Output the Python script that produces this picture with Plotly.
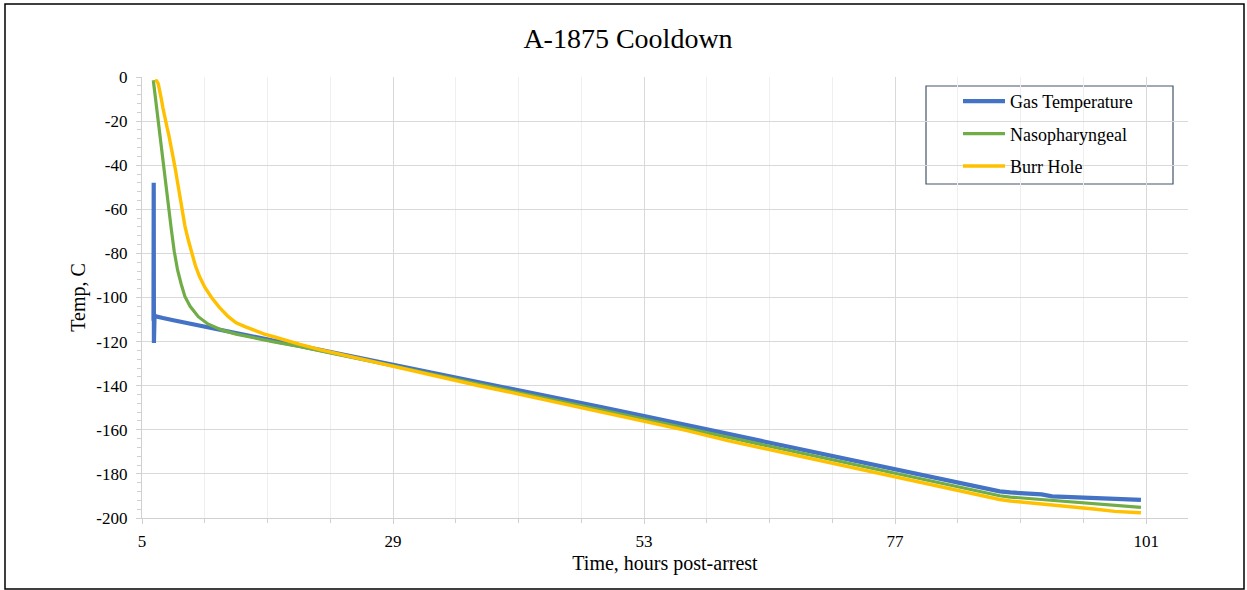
import plotly.graph_objects as go

# ---- data ----
gas_t = [6.10, 6.12, 6.14, 6.17, 6.20, 6.30, 6.50, 7, 8, 9, 10, 11, 12, 13, 14, 15, 16, 17, 18,
         20, 22, 25, 29, 33, 37, 41, 45, 49, 53, 57, 61, 65, 69, 73, 77, 81, 84, 86, 87, 88,
         89, 90, 91, 92, 94, 96, 98, 100, 100.5]
gas_T = [-110.5, -48.0, -120.6, -101.5, -108.0, -108.5, -108.8, -109.3, -110.3, -111.3, -112.3,
         -113.3, -114.3, -115.3, -116.3, -117.3, -118.2, -119.1, -120.0, -121.8, -123.7, -126.6,
         -130.4, -134.3, -138.2, -142.0, -145.9, -149.8, -153.8, -157.8, -161.9, -166.0, -170.0,
         -174.0, -178.0, -182.1, -185.2, -187.1, -187.9, -188.4, -188.7, -189.0, -189.3, -190.2,
         -190.6, -190.9, -191.2, -191.5, -191.8]

naso_t = [6.08, 6.40, 6.80, 7.20, 7.50, 7.80, 8.08, 8.40, 8.75, 9.10, 9.60, 10.38, 11.3, 12.6,
          14.0, 15.8, 17.5, 20, 22, 25, 29, 33, 37, 41, 45, 49, 53, 57, 61, 65, 69, 73, 77,
          81, 84, 86, 87, 88, 90, 92, 94, 96, 98, 100, 100.5]
naso_T = [-1.5, -14.5, -31.0, -47.5, -59.0, -69.0, -79.0, -87.5, -94.0, -99.5, -104.0, -108.7,
          -112.0, -114.7, -116.6, -118.5, -120.0, -122.2, -124.1, -127.0, -131.0, -135.1,
          -139.2, -143.1, -147.1, -151.1, -155.2, -159.3, -163.6, -167.7, -171.8, -175.9,
          -179.9, -184.0, -187.1, -189.0, -189.9, -190.5, -191.3, -192.1, -192.9, -193.7,
          -194.4, -195.0, -195.2]

burr_t = [6.24, 6.40, 6.55, 6.70, 6.85, 7.00, 7.20, 7.30, 7.40, 7.55, 7.80, 8.00, 8.20, 8.50,
          8.78, 9.10, 9.40, 9.74, 10.1, 10.5, 11.0, 11.65, 12.4, 13.25, 14.0, 14.84, 15.8,
          16.7, 17.6, 18.8, 20.1, 22, 25, 29, 33, 37, 41, 45, 49, 53, 57, 61, 65, 69, 73,
          77, 81, 84, 86, 87, 88, 90, 92, 94, 96, 98, 100, 100.5]
burr_T = [-1.5, -1.8, -3.0, -6.0, -10.0, -14.0, -19.5, -22.5, -23.0, -26.0, -31.5, -37.0, -42.2,
          -51.0, -60.0, -67.5, -73.5, -80.0, -85.5, -90.5, -95.3, -100.0, -104.5, -108.7,
          -111.5, -113.2, -115.0, -116.6, -117.8, -119.6, -121.3, -123.6, -126.9, -131.2,
          -135.4, -139.8, -143.8, -147.9, -152.0, -156.1, -160.3, -164.9, -169.0, -173.1,
          -177.2, -181.2, -185.4, -188.6, -190.6, -191.6, -192.3, -193.3, -194.2, -195.0,
          -195.9, -197.0, -197.5, -197.6]

x_tickvals = [5, 29, 53, 77, 101]
x_ticktext = ["5", "29", "53", "77", "101"]
y_tickvals = [0, -20, -40, -60, -80, -100, -120, -140, -160, -180, -200]
y_ticktext = ["0", "-20", "-40", "-60", "-80", "-100", "-120", "-140", "-160", "-180", "-200"]

series = [
    ("Gas Temperature", gas_t, gas_T, "#4472C4", 4.2),
    ("Nasopharyngeal", naso_t, naso_T, "#70AD47", 3.2),
    ("Burr Hole", burr_t, burr_T, "#FFC000", 3.4),
]

FONT = "Liberation Serif, Times New Roman, serif"

fig = go.Figure()
for i, (name, t, T, col, w) in enumerate(series):
    fig.add_trace(go.Scatter(x=t, y=T, mode="lines", name=name, legendgroup=f"g{i}",
                             line=dict(color=col, width=w)))

# plot area: x 142..1188, y 77..518 px
L, R, TOP, BOT = 142, 1188, 77, 518
W, H = 1247, 590
pw, ph = R - L, BOT - TOP


def px_x(p):
    return (p - L) / pw


def px_y(p):
    return (BOT - p) / ph


fig.update_layout(
    width=W, height=H,
    margin=dict(l=L, r=W - R, t=TOP, b=H - BOT, autoexpand=False),
    paper_bgcolor="white", plot_bgcolor="white",
    font=dict(family=FONT, color="#000000", size=17),
    title=dict(text="A-1875 Cooldown", x=628 / W, xref="container", xanchor="center",
               y=1 - 38 / H, yanchor="middle", yref="container",
               font=dict(family=FONT, size=28, color="#000000")),
    showlegend=True,
    legend=dict(x=px_x(958), y=px_y(83), xanchor="left", yanchor="top",
                bgcolor="rgba(0,0,0,0)", borderwidth=0, tracegroupgap=6,
                itemwidth=42, font=dict(family=FONT, size=18, color="#000000")),
    xaxis=dict(range=[5, 105], tickvals=x_tickvals, ticktext=x_ticktext,
               showgrid=True, gridcolor="#D9D9D9", gridwidth=1,
               showline=True, linecolor="#D0D0D0", linewidth=1.3,
               ticks="outside", ticklen=5, tickcolor="#D0D0D0",
               zeroline=False, ticklabelstandoff=2,
               tickfont=dict(family=FONT, size=17, color="#000000"),
               minor=dict(dtick=6, tick0=5, showgrid=True, gridcolor="#EFEFEF", gridwidth=1,
                          ticks="outside", ticklen=4, tickcolor="#D0D0D0"),
               title=dict(text="Time, hours post-arrest", standoff=6,
                          font=dict(family=FONT, size=20, color="#000000"))),
    yaxis=dict(range=[-200, 0], tickvals=y_tickvals, ticktext=y_ticktext,
               showgrid=True, gridcolor="#D9D9D9", gridwidth=1,
               showline=True, linecolor="#D0D0D0", linewidth=1.3,
               ticks="outside", ticklen=5, tickcolor="#D0D0D0",
               zeroline=False, ticklabelstandoff=5,
               tickfont=dict(family=FONT, size=17, color="#000000"),
               minor=dict(dtick=4, tick0=0, showgrid=False,
                          ticks="outside", ticklen=4, tickcolor="#D0D0D0"),
               title=dict(text="Temp, C", standoff=5,
                          font=dict(family=FONT, size=20, color="#000000"))),
    shapes=[
        # legend box
        dict(type="rect", xref="paper", yref="paper",
             x0=px_x(926), x1=px_x(1173), y0=px_y(184), y1=px_y(86),
             line=dict(color="#44546A", width=1.2), fillcolor="rgba(255,255,255,1)",
             layer="below"),
        # outer chart frame
        dict(type="rect", xref="paper", yref="paper",
             x0=px_x(5), x1=px_x(1244), y0=px_y(589), y1=px_y(4),
             line=dict(color="#000000", width=1.5), layer="above"),
    ],
)

fig.write_html(
    "out.html",
    config={"displayModeBar": False},
    post_script="document.body.style.margin='0';document.body.style.overflow='hidden';",
)
